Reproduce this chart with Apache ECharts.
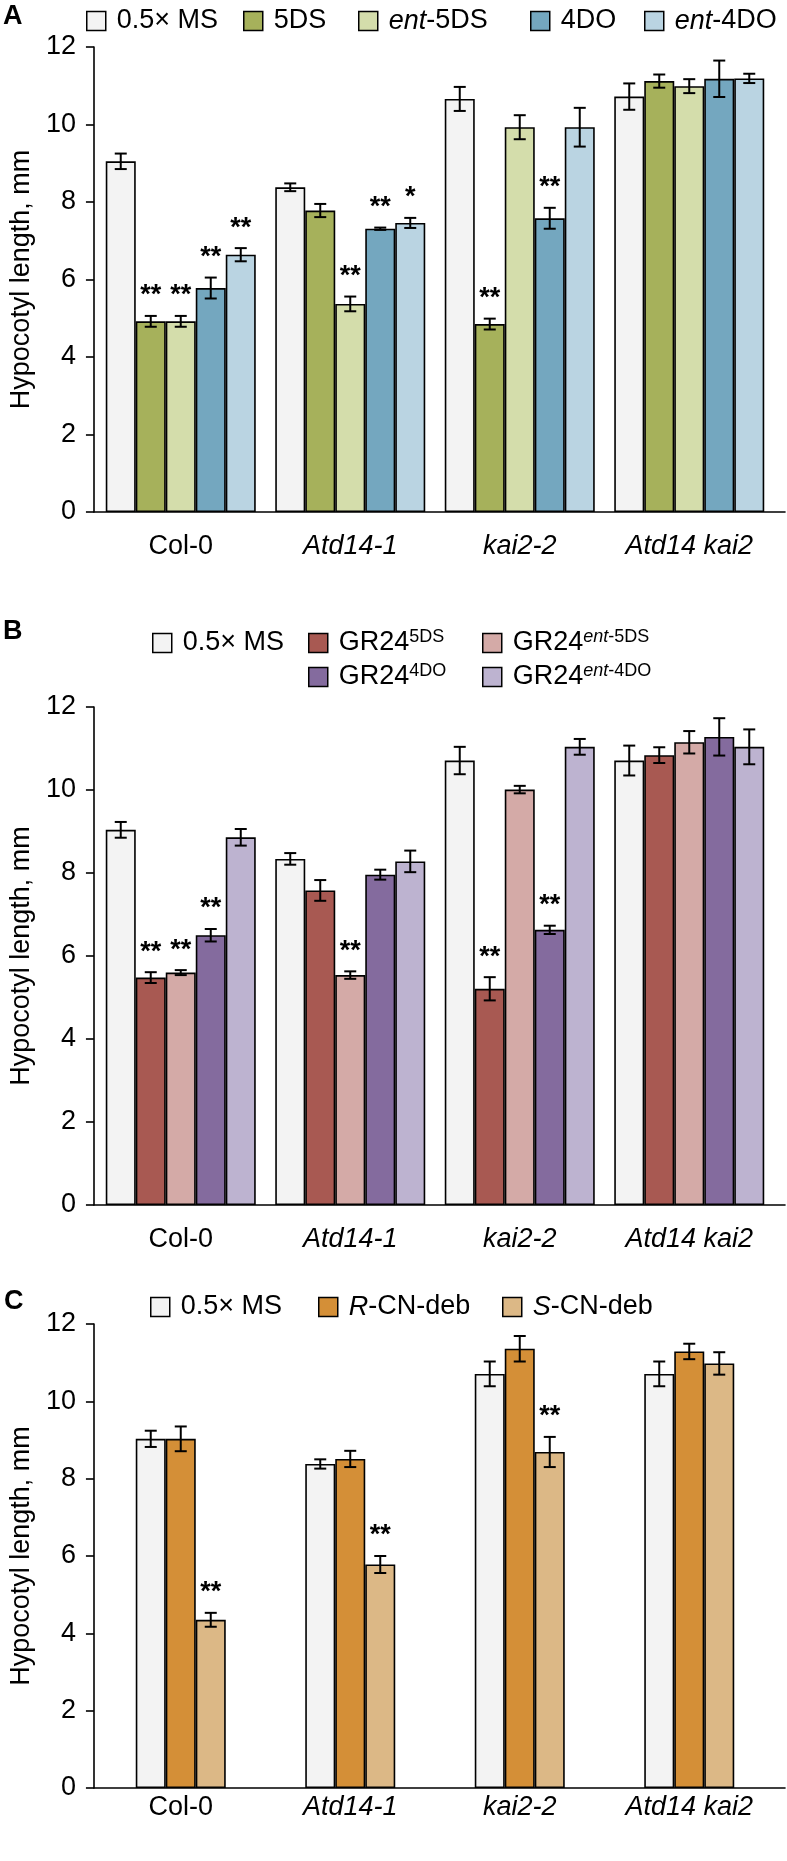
<!DOCTYPE html>
<html lang="en">
<head>
<meta charset="UTF-8" />
<title>Hypocotyl length</title>
<script src="https://cdn.jsdelivr.net/npm/echarts@6/dist/echarts.min.js"></script>
<style>html,body{margin:0;padding:0;background:#fff}</style>
</head>
<body>
<div id="main" style="width:787px;height:1861px"></div>
<script>
const categories = ['Col-0', 'Atd14-1', 'kai2-2', 'Atd14 kai2'];
const yTicks = [0, 2, 4, 6, 8, 10, 12];

// panel A
const namesA = ['0.5× MS', '5DS', 'ent-5DS', '4DO', 'ent-4DO'];
const colorsA = ['#f3f3f3', '#a6b15b', '#d4ddab', '#74a7bf', '#bad4e2'];
const msA = [9.05, 8.38, 10.66, 10.72];
const msAErr = [0.2, 0.1, 0.31, 0.34];
const ds5A = [4.92, 7.78, 4.85, 11.12];
const ds5AErr = [0.14, 0.17, 0.14, 0.17];
const entDs5A = [4.92, 5.37, 9.93, 10.99];
const entDs5AErr = [0.14, 0.19, 0.31, 0.18];
const do4A = [5.78, 7.31, 7.58, 11.18];
const do4AErr = [0.27, 0.03, 0.27, 0.47];
const entDo4A = [6.64, 7.46, 9.93, 11.19];
const entDo4AErr = [0.17, 0.13, 0.5, 0.12];
const sigA = [['', '', '', ''], ['**', '', '**', ''], ['**', '**', '', ''], ['**', '**', '**', ''], ['**', '*', '', '']];

// panel B
const namesB = ['0.5× MS', 'GR24 5DS', 'GR24 ent-5DS', 'GR24 4DO', 'GR24 ent-4DO'];
const colorsB = ['#f3f3f3', '#a85952', '#d4aaa7', '#846b9e', '#bdb3d0'];
const msB = [9.04, 8.34, 10.71, 10.71];
const msBErr = [0.19, 0.14, 0.33, 0.36];
const gr5B = [5.48, 7.58, 5.21, 10.84];
const gr5BErr = [0.13, 0.25, 0.28, 0.19];
const grEnt5B = [5.6, 5.54, 10.01, 11.15];
const grEnt5BErr = [0.06, 0.09, 0.09, 0.27];
const gr4B = [6.5, 7.96, 6.63, 11.28];
const gr4BErr = [0.15, 0.12, 0.1, 0.45];
const grEnt4B = [8.86, 8.28, 11.04, 11.04];
const grEnt4BErr = [0.2, 0.26, 0.19, 0.42];
const sigB = [['', '', '', ''], ['**', '', '**', ''], ['**', '**', '', ''], ['**', '', '**', ''], ['', '', '', '']];

// panel C
const namesC = ['0.5× MS', 'R-CN-deb', 'S-CN-deb'];
const colorsC = ['#f3f3f3', '#d48f37', '#dcb886'];
const msC = [9.03, 8.38, 10.71, 10.71];
const msCErr = [0.21, 0.12, 0.32, 0.32];
const rC = [9.03, 8.51, 11.36, 11.29];
const rCErr = [0.32, 0.21, 0.33, 0.2];
const sC = [4.35, 5.78, 8.69, 10.98];
const sCErr = [0.18, 0.22, 0.39, 0.29];
const sigC = [['', '', '', ''], ['', '', '', ''], ['**', '**', '**', '']];

const FF = '"Liberation Sans", Arial, Helvetica, sans-serif';
const FS = 27;

const legendText = {
  'ent-5DS': '{i|ent}-5DS',
  'ent-4DO': '{i|ent}-4DO',
  'GR24 5DS': 'GR24{sup|5DS}',
  'GR24 ent-5DS': 'GR24{supi|ent}{sup|-5DS}',
  'GR24 4DO': 'GR24{sup|4DO}',
  'GR24 ent-4DO': 'GR24{supi|ent}{sup|-4DO}',
  'R-CN-deb': '{i|R}-CN-deb',
  'S-CN-deb': '{i|S}-CN-deb'
};

const myChart = echarts.init(document.getElementById('main'), null, { renderer: 'canvas' });

const panels = [
  { names: namesA, colors: colorsA, means: [msA, ds5A, entDs5A, do4A, entDo4A],
    errs: [msAErr, ds5AErr, entDs5AErr, do4AErr, entDo4AErr], sig: sigA,
    top: 47, bottom: 1349, gap: 0.115, labelMargin: 21 },
  { names: namesB, colors: colorsB, means: [msB, gr5B, grEnt5B, gr4B, grEnt4B],
    errs: [msBErr, gr5BErr, grEnt5BErr, gr4BErr, grEnt4BErr], sig: sigB,
    top: 707, bottom: 656, gap: 0.115, labelMargin: 21 },
  { names: namesC, colors: colorsC, means: [msC, rC, sC],
    errs: [msCErr, rCErr, sCErr], sig: sigC,
    top: 1324, bottom: 73, gap: 0.469, labelMargin: 6 }
];

const grid = [], xAxis = [], yAxis = [], series = [];
const lineStyle = { color: '#000', width: 1.6 };

panels.forEach((p, pi) => {
  const fIdx = pi * 2, bIdx = pi * 2 + 1;
  // frame grid: axis lines, y ticks and name
  grid.push({ left: 85, right: 2, top: p.top, bottom: p.bottom });
  // bars grid
  grid.push({ left: 96, right: 13, top: p.top, bottom: p.bottom });

  xAxis.push({
    gridIndex: fIdx, type: 'value', min: 0, max: 1,
    axisLine: { show: true, lineStyle }, axisTick: { show: false },
    axisLabel: { show: false }, splitLine: { show: false }
  });
  xAxis.push({
    gridIndex: bIdx, type: 'category', data: categories,
    axisLine: { show: false }, axisTick: { show: false },
    axisLabel: {
      interval: 0, hideOverlap: false,
      margin: p.labelMargin, fontSize: FS, color: '#000', fontFamily: FF,
      formatter: v => (v === 'Col-0' ? v : '{i|' + v + '}'),
      rich: { i: { fontStyle: 'italic', fontSize: FS, fontFamily: FF, color: '#000' } }
    }
  });
  yAxis.push({
    gridIndex: fIdx, type: 'value',
    min: yTicks[0], max: yTicks[yTicks.length - 1], interval: yTicks[1] - yTicks[0],
    axisLine: { show: true, lineStyle },
    axisTick: { show: true, length: 8, lineStyle },
    axisLabel: { fontSize: FS, color: '#000', fontFamily: FF, margin: 18 },
    splitLine: { show: false },
    name: 'Hypocotyl length, mm', nameLocation: 'middle', nameGap: 56,
    nameTextStyle: { fontSize: FS, color: '#000', fontFamily: FF }
  });
  yAxis.push({
    gridIndex: bIdx, type: 'value',
    min: yTicks[0], max: yTicks[yTicks.length - 1], show: false
  });

  const n = p.names.length;
  const rows = [];
  p.names.forEach((name, k) => {
    series.push({
      name, type: 'bar', xAxisIndex: bIdx, yAxisIndex: bIdx,
      data: p.means[k], barGap: '0%', barCategoryGap: (p.gap * 100) + '%',
      itemStyle: { color: p.colors[k], borderColor: '#000', borderWidth: 1.6 },
      emphasis: { disabled: true }
    });
    p.means[k].forEach((m, i) => {
      rows.push({ cat: i, mean: m, err: p.errs[k][i], k, sig: p.sig[k][i] });
    });
  });

  // error bars and significance marks
  series.push({
    type: 'custom', xAxisIndex: bIdx, yAxisIndex: bIdx, z: 5,
    data: rows.map(r => [r.cat, r.mean + r.err, r.mean - r.err]),
    renderItem: (params, api) => {
      const r = rows[params.dataIndex];
      const band = api.size([1, 0])[0];
      const bw = band * (1 - p.gap) / n;
      const x = api.coord([r.cat, r.mean])[0] + (r.k - (n - 1) / 2) * bw;
      const yTop = api.coord([r.cat, r.mean + r.err])[1];
      const yBot = api.coord([r.cat, r.mean - r.err])[1];
      const st = { stroke: '#000', lineWidth: 2 };
      const children = [
        { type: 'line', shape: { x1: x, y1: yTop, x2: x, y2: yBot }, style: st },
        { type: 'line', shape: { x1: x - 6, y1: yTop, x2: x + 6, y2: yTop }, style: st },
        { type: 'line', shape: { x1: x - 6, y1: yBot, x2: x + 6, y2: yBot }, style: st }
      ];
      if (r.sig) {
        children.push({
          type: 'text',
          style: { text: r.sig, x, y: yTop - 20, align: 'center', verticalAlign: 'middle',
            fontSize: FS, fontWeight: 'bold', fontFamily: FF, fill: '#000' }
        });
      }
      return { type: 'group', children };
    }
  });
});

const legendBase = {
  orient: 'horizontal', padding: 0, itemWidth: 19, itemHeight: 19, icon: 'rect',
  selectedMode: false,
  itemStyle: { borderColor: '#000', borderWidth: 1.5 },
  formatter: name => legendText[name] || name,
  textStyle: {
    fontSize: FS, color: '#000', fontFamily: FF, lineHeight: 30, padding: [0, 0, 0, 6],
    rich: {
      i: { fontStyle: 'italic', fontSize: FS, fontFamily: FF, color: '#000', lineHeight: 30 },
      sup: { fontSize: 18, fontFamily: FF, color: '#000', lineHeight: 18, verticalAlign: 'top' },
      supi: { fontSize: 18, fontFamily: FF, color: '#000', lineHeight: 18, verticalAlign: 'top', fontStyle: 'italic' }
    }
  }
};
function legendRow(names, lefts, top) {
  return names.map((name, i) => Object.assign({}, legendBase, { data: [name], left: lefts[i], top }));
}
const legend = [].concat(
  legendRow(namesA, [86, 243, 358, 530, 644], 6),
  legendRow(namesB.slice(0, 3), [152, 308, 482], 628),
  legendRow(namesB.slice(3), [308, 482], 662),
  legendRow(namesC, [150, 318, 502], 1292)
);

const letterStyle = { fontSize: FS, fontWeight: 'bold', color: '#000', fontFamily: FF };
const option = {
  animation: false,
  textStyle: { fontFamily: FF },
  title: [
    { text: 'A', left: 3, top: 3, padding: 0, textStyle: letterStyle },
    { text: 'B', left: 3, top: 618, padding: 0, textStyle: letterStyle },
    { text: 'C', left: 4, top: 1288, padding: 0, textStyle: letterStyle }
  ],
  legend,
  grid,
  xAxis,
  yAxis,
  series
};

myChart.setOption(option);
</script>
</body>
</html>
